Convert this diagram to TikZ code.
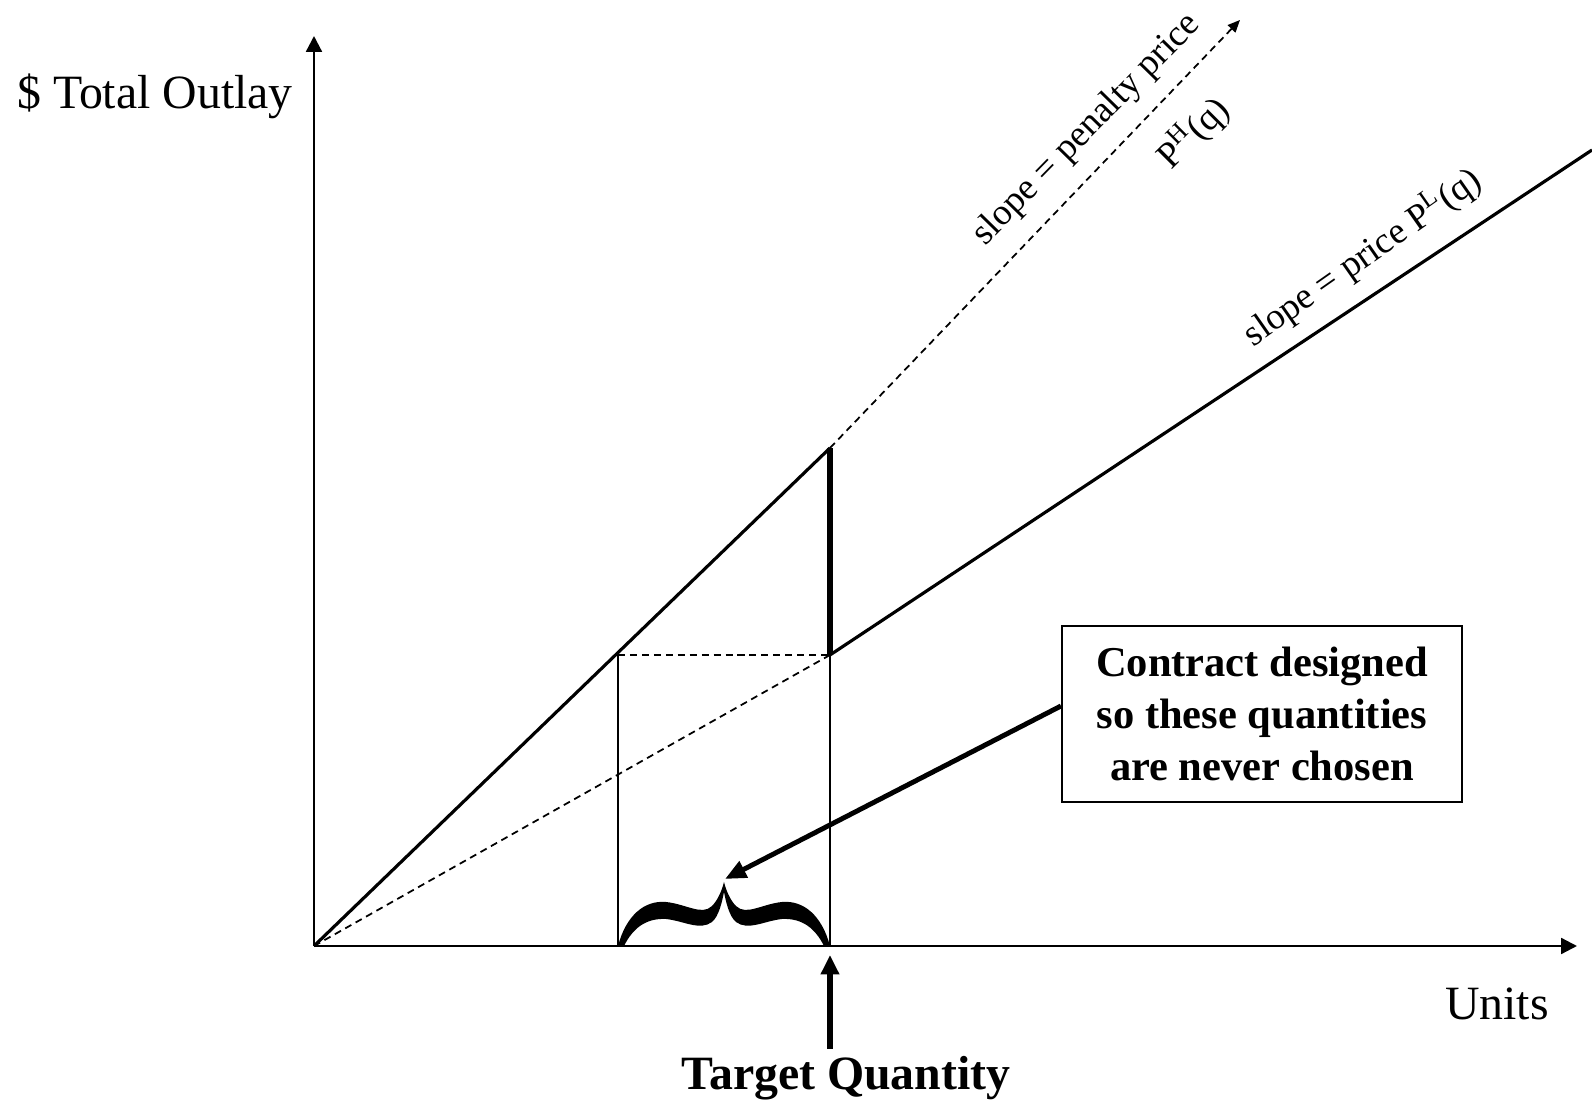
\documentclass[tikz,border=0pt]{standalone}
\usepackage{fontspec}
\setmainfont{Liberation Serif}
\usetikzlibrary{arrows.meta}

\begin{document}
\begin{tikzpicture}[
  axis/.style={line width=0.65pt, -{Triangle[length=4.5pt, width=4.5pt]}},
  curve/.style={line width=0.9pt},
  guide/.style={line width=0.5pt, dash pattern=on 2pt off 1.4pt},
  slopelabel/.style={font=\fontsize{10.5}{12}\selectfont, inner sep=0pt},
  biglabel/.style={font=\fontsize{13.6}{16}\selectfont, inner sep=0pt}]
  \useasboundingbox (-3.14,-1.59) rectangle (12.78,9.46);

  % Axes
  \coordinate (O) at (0,0);
  \coordinate (ytop) at (0,9.10);
  \coordinate (xend) at (12.63,0);
  \draw[axis] (O) -- (ytop);
  \draw[axis] (O) -- (xend);
  \node[biglabel] (ylab) at (-1.59,8.50) {\$ Total Outlay};
  \node[biglabel] (xlab) at (11.83,-0.58) {Units};

  % Key points of the outlay schedule
  \coordinate (K) at (5.16,4.98);
  \coordinate (J) at (5.16,2.91);
  \coordinate (A) at (3.04,2.91);
  \coordinate (Abase) at (3.04,0);
  \coordinate (Jbase) at (5.16,0);
  \coordinate (hend) at (9.26,9.26);
  \coordinate (lend) at (12.78,7.96);

  % Outlay schedule
  \draw[curve] (O) -- (K);
  \draw[line width=1.7pt] (K) -- (J);
  \draw[curve] (J) -- (lend);

  % Dashed guides
  \draw[guide, -{Triangle[length=3.5pt, width=3pt]}] (K) -- (hend);
  \draw[guide] (O) -- (J);
  \draw[guide] (A) -- (J);
  \draw[line width=0.5pt] (A) -- (Abase);
  \draw[line width=0.5pt] (J) -- (Jbase);

  % Slope labels
  \node[slopelabel, rotate=45.6] (penalty) at (7.73,8.16) {slope = penalty price};
  \node[slopelabel, rotate=45] (ph) at (8.79,8.13) {P\textsuperscript{H}(q)};
  \node[slopelabel, rotate=35] (pl) at (10.48,6.89) {slope = price P\textsuperscript{L}(q)};

  % Brace over the excluded quantities
  \begin{scope}[shift={(4.10,0)}]
    \fill (-1.06,0) .. controls (-0.98,0.30) and (-0.80,0.46) .. (-0.58,0.44)
      .. controls (-0.38,0.42) and (-0.22,0.30) .. (-0.12,0.40)
      .. controls (-0.06,0.46) and (-0.02,0.56) .. (0,0.64)
      .. controls (0.02,0.56) and (0.06,0.46) .. (0.12,0.40)
      .. controls (0.22,0.30) and (0.38,0.42) .. (0.58,0.44)
      .. controls (0.80,0.46) and (0.98,0.30) .. (1.06,0)
      -- (1.00,0)
      .. controls (0.91,0.18) and (0.78,0.28) .. (0.58,0.27)
      .. controls (0.40,0.25) and (0.24,0.15) .. (0.12,0.24)
      .. controls (0.05,0.30) and (0.02,0.44) .. (0,0.54)
      .. controls (-0.02,0.44) and (-0.05,0.30) .. (-0.12,0.24)
      .. controls (-0.24,0.15) and (-0.40,0.25) .. (-0.58,0.27)
      .. controls (-0.78,0.28) and (-0.91,0.18) .. (-1.00,0) -- cycle;
  \end{scope}
  \coordinate (tip) at (4.11,0.67);

  % Note box
  \node[draw, line width=0.6pt, minimum width=4cm, minimum height=1.76cm, align=center,
        font=\bfseries\fontsize{12.1}{14.8}\selectfont] (box) at (9.48,2.32)
        {Contract designed\\so these quantities\\are never chosen};
  \draw[line width=1.4pt, -{Triangle[length=6pt, width=5pt]}] ([yshift=0.08cm]box.west) -- (tip);

  % Target quantity
  \node[biglabel, font=\bfseries\fontsize{13.6}{16}\selectfont] (target) at (5.32,-1.32) {Target Quantity};
  \coordinate (tq) at (5.16,-1.03);
  \coordinate (tqtop) at (5.16,-0.09);
  \draw[line width=1.7pt, -{Triangle[length=5.5pt, width=5pt]}] (tq) -- (tqtop);
\end{tikzpicture}
\end{document}
